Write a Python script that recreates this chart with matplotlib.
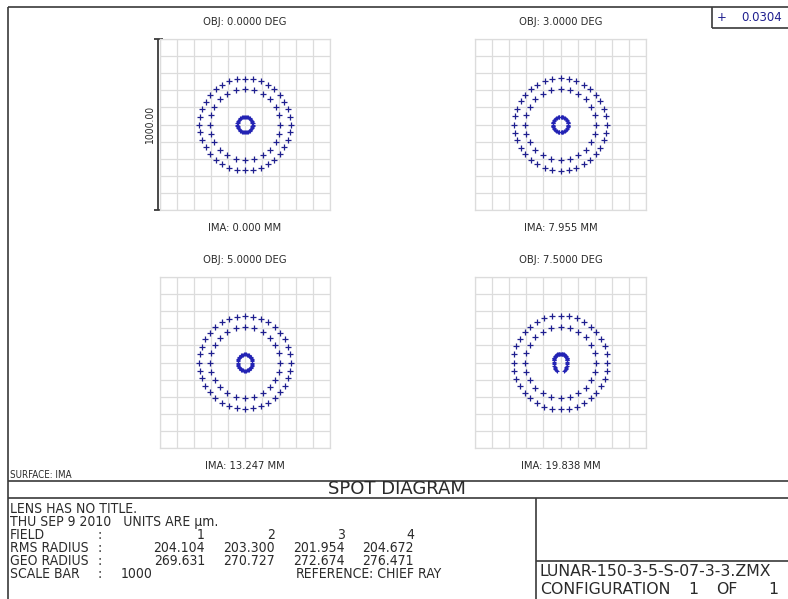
import numpy as np
import matplotlib
matplotlib.use("Agg")
import matplotlib.pyplot as plt
from matplotlib import font_manager

# field data
field_obj = [0.0, 3.0, 5.0, 7.5]            # deg
field_ima = [0.000, 7.955, 13.247, 19.838]  # mm
rms_radius = [204.104, 203.300, 201.954, 204.672]
geo_radius = [269.631, 270.727, 272.674, 276.471]

# ring radii of the spots (um), estimated from the plot
outer_ring_r = [268, 270, 271, 274]
inner_ring_r = [208, 208, 206, 208]
core_r = [45, 45, 42, 40]
core_aspect = [1.0, 1.0, 1.15, 1.0]
core_gap = [0, 0, 0, 70]        # deg, open part of the core ring (at bottom)
core_dy = [0, 0, 0, 12]
outer_n, inner_n, core_n = 36, 24, 48

scale_bar = 1000.0
wavelength = 0.0304

W, H = 788, 599
cond = [f for f in font_manager.fontManager.ttflist
        if f.name == 'DejaVu Sans' and f.stretch == 'condensed']
if cond:
    small = dict(family='DejaVu Sans', fontstretch='condensed')
else:
    small = dict(family='Liberation Sans')
tcol = '#2a2a2a'
spot_col = '#1f1f8f'
line_col = '#3a3a3a'

fig = plt.figure(figsize=(W / 100, H / 100), dpi=100)
bg = fig.add_axes([0, 0, 1, 1])
bg.set_xlim(0, W)
bg.set_ylim(H, 0)
bg.axis('off')


def hline(y, x0, x1, lw=1.2):
    bg.plot([x0, x1], [y, y], color=line_col, lw=lw, solid_capstyle='butt')


def vline(x, y0, y1, lw=1.2):
    bg.plot([x, x], [y0, y1], color=line_col, lw=lw, solid_capstyle='butt')


# frame
hline(7, 8, W)
vline(8, 7, H)
vline(712, 7, 28)
hline(28, 712, W)
hline(481, 8, W)
hline(498, 8, W)
vline(536, 498, H)
hline(561, 536, W)

# spot boxes (pixel coords)
boxes = [(160, 39, 330, 210), (475, 39, 646, 210),
         (160, 277, 330, 448), (475, 277, 646, 448)]

for i, (x0, y0, x1, y1) in enumerate(boxes):
    ax = fig.add_axes([x0 / W, 1 - y1 / H, (x1 - x0) / W, (y1 - y0) / H])
    ax.set_xlim(-500, 500)
    ax.set_ylim(-500, 500)
    ticks = np.arange(-500, 501, 100)
    ax.set_xticks(ticks)
    ax.set_yticks(ticks)
    ax.grid(True, color='#dcdcdc', lw=0.9)
    ax.tick_params(length=0, labelbottom=False, labelleft=False)
    for sp in ax.spines.values():
        sp.set_color('#dcdcdc')
        sp.set_linewidth(0.9)

    t = np.deg2rad(np.arange(outer_n) * 360 / outer_n)
    ax.plot(outer_ring_r[i] * np.cos(t), outer_ring_r[i] * np.sin(t), '+',
            color=spot_col, ms=4.0, mew=0.9)
    t = np.deg2rad(np.arange(inner_n) * 360 / inner_n)
    ax.plot(inner_ring_r[i] * np.cos(t), inner_ring_r[i] * np.sin(t), '+',
            color=spot_col, ms=4.0, mew=0.9)

    g = core_gap[i] / 2
    t = np.deg2rad(np.linspace(-90 + g, 270 - g, core_n, endpoint=core_gap[i] > 0))
    cx = core_r[i] * np.cos(t)
    cy = core_r[i] * np.sin(t) * core_aspect[i]
    if core_gap[i] > 0:
        cy = np.where(cy < 0, cy * 1.9, cy)
    ax.plot(cx, cy + core_dy[i], '+', color='#2323b4', ms=2.8, mew=0.8)

    xc = (x0 + x1) / 2
    bg.text(xc, y0 - 17, f"OBJ: {field_obj[i]:.4f} DEG", ha='center', va='center',
            fontsize=8, color=tcol, **small)
    bg.text(xc, y1 + 18, f"IMA: {field_ima[i]:.3f} MM", ha='center', va='center',
            fontsize=8, color=tcol, **small)

# scale bar
x0, y0, x1, y1 = boxes[0]
vline(158, y0, y1, lw=1.3)
hline(y0, 154, 163, lw=1.3)
hline(y1, 154, 163, lw=1.3)
bg.text(150, (y0 + y1) / 2, f"{scale_bar:.2f}", rotation=90, ha='center', va='center',
        fontsize=7.5, color=tcol, **small)

# wavelength legend
bg.text(722, 17.5, "+", ha='center', va='center', fontsize=8.5, color=spot_col)
bg.text(741, 17.5, f"{wavelength:.4f}", ha='left', va='center', fontsize=8.5,
        color=spot_col)

bg.text(10, 475, "SURFACE: IMA", ha='left', va='center', fontsize=7, color=tcol,
        **small)
bg.text(397, 489.5, "SPOT DIAGRAM", ha='center', va='center', fontsize=13,
        color=tcol)

# lower text block
fs = 10
rows_y = [509, 522, 535, 548, 561, 574]
bg.text(10, rows_y[0], "LENS HAS NO TITLE.", va='center', fontsize=fs, color=tcol,
        **small)
bg.text(10, rows_y[1], "THU SEP 9 2010   UNITS ARE \u00b5m.", va='center', fontsize=fs,
        color=tcol, **small)
labels = ["FIELD", "RMS RADIUS", "GEO RADIUS", "SCALE BAR"]
for k, lab in enumerate(labels):
    y = rows_y[2 + k]
    bg.text(10, y, lab, va='center', fontsize=fs, color=tcol, **small)
    bg.text(98, y, ":", va='center', fontsize=fs, color=tcol, **small)
col_x = [205, 275, 345, 414]
for j in range(4):
    bg.text(col_x[j], rows_y[2], f"{j + 1}", ha='right', va='center', fontsize=fs,
            color=tcol, **small)
    bg.text(col_x[j], rows_y[3], f"{rms_radius[j]:.3f}", ha='right', va='center',
            fontsize=fs, color=tcol, **small)
    bg.text(col_x[j], rows_y[4], f"{geo_radius[j]:.3f}", ha='right', va='center',
            fontsize=fs, color=tcol, **small)
bg.text(121, rows_y[5], f"{scale_bar:.0f}", va='center', fontsize=fs, color=tcol,
        **small)
bg.text(296, rows_y[5], "REFERENCE", va='center', fontsize=fs, color=tcol, **small)
bg.text(369, rows_y[5], ": CHIEF RAY", va='center', fontsize=fs, color=tcol, **small)

bg.text(540, 571, "LUNAR-150-3-5-S-07-3-3.ZMX", va='center', fontsize=11.3,
        color=tcol)
bg.text(540, 589, "CONFIGURATION", va='center', fontsize=11.3, color=tcol)
bg.text(688, 589, "1", va='center', fontsize=11.3, color=tcol)
bg.text(716, 589, "OF", va='center', fontsize=11.3, color=tcol)
bg.text(768, 589, "1", va='center', fontsize=11.3, color=tcol)

fig.savefig("out.png", dpi=100)
